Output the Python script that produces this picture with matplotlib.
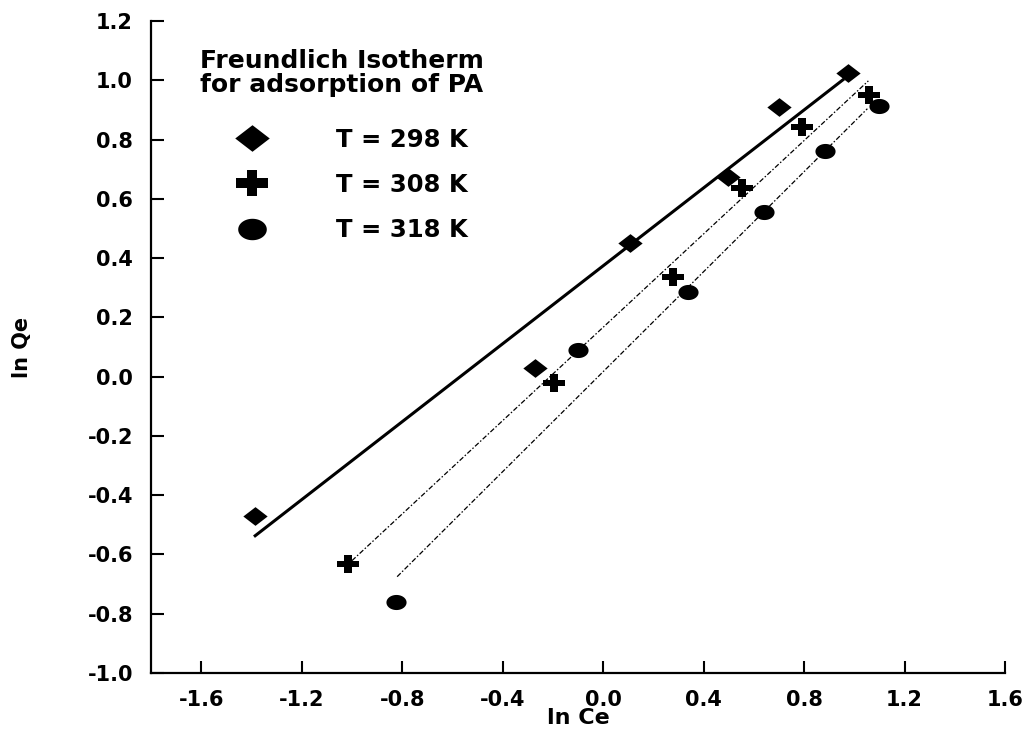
import numpy as np
import matplotlib
matplotlib.use("Agg")
import matplotlib.pyplot as plt
from matplotlib.ticker import FixedLocator, FormatStrFormatter

plt.rcParams['font.family'] = ['DejaVu Sans']
plt.rcParams['font.weight'] = 'bold'
plt.rcParams['axes.unicode_minus'] = False

# ---- data ----
lnCe_298 = [-1.386, -0.271, 0.108, 0.498, 0.701, 0.976]
lnQe_298 = [-0.469, 0.030, 0.452, 0.675, 0.911, 1.025]
lnCe_308 = [-1.016, -0.195, 0.279, 0.554, 0.793, 1.059]
lnQe_308 = [-0.631, -0.020, 0.337, 0.637, 0.843, 0.951]
lnCe_318 = [-0.824, -0.100, 0.339, 0.641, 0.884, 1.099]
lnQe_318 = [-0.759, 0.091, 0.287, 0.556, 0.762, 0.914]

fit_298_x = [-1.39, 0.96]
fit_298_y = [-0.54, 1.005]
fit_308_x = [-1.00, 1.056]
fit_308_y = [-0.621, 0.998]
fit_318_x = [-0.820, 1.052]
fit_318_y = [-0.675, 0.904]

labels = ['T = 298 K', 'T = 308 K', 'T = 318 K']
x_ticks = [-1.6, -1.2, -0.8, -0.4, 0.0, 0.4, 0.8, 1.2, 1.6]
y_ticks = [-1.0, -0.8, -0.6, -0.4, -0.2, 0.0, 0.2, 0.4, 0.6, 0.8, 1.0, 1.2]
title_text = 'Freundlich Isotherm\nfor adsorption of PA'

# ---- custom marker shapes (wider than tall, like the reference) ----
diamond = [(-1, 0), (0, 0.77), (1, 0), (0, -0.77), (-1, 0)]
a, b, H = 0.33, 0.28, 0.77
plus = [(-1, -b), (-a, -b), (-a, -H), (a, -H), (a, -b), (1, -b), (1, b),
        (a, b), (a, H), (-a, H), (-a, b), (-1, b), (-1, -b)]
t = np.linspace(0, 2 * np.pi, 64)
ellipse = list(zip(np.cos(t), 0.75 * np.sin(t)))

fig = plt.figure(figsize=(10.29, 7.35), dpi=100)
W, Hh = 1029, 735
ax = fig.add_axes([151 / W, 1 - 673 / Hh, (1005 - 151) / W, (673 - 21) / Hh])

# fit lines
ax.plot(fit_298_x, fit_298_y, color='black', lw=2.2, solid_capstyle='butt')
ax.plot(fit_308_x, fit_308_y, color='black', lw=0.9, dashes=[4, 1.6, 1.2, 1.6])
ax.plot(fit_318_x, fit_318_y, color='black', lw=0.9, dashes=[4, 1.6, 1.2, 1.6])

# data points
ax.plot(lnCe_298, lnQe_298, linestyle='none', marker=diamond, markersize=17.5,
        color='black', markeredgewidth=0, label=labels[0])
ax.plot(lnCe_308, lnQe_308, linestyle='none', marker=plus, markersize=16.5,
        color='black', markeredgewidth=0, label=labels[1])
ax.plot(lnCe_318, lnQe_318, linestyle='none', marker=ellipse, markersize=14.5,
        color='black', markeredgewidth=0, label=labels[2])

ax.set_xlim(-1.8, 1.6)
ax.set_ylim(-1.0, 1.2)
ax.xaxis.set_major_locator(FixedLocator(x_ticks))
ax.yaxis.set_major_locator(FixedLocator(y_ticks))
ax.xaxis.set_major_formatter(FormatStrFormatter('%.1f'))
ax.yaxis.set_major_formatter(FormatStrFormatter('%.1f'))

for s in ['top', 'right']:
    ax.spines[s].set_visible(False)
for s in ['left', 'bottom']:
    ax.spines[s].set_linewidth(1.6)
ax.tick_params(axis='both', direction='in', length=9, width=1.5, labelsize=15)
ax.tick_params(axis='y', pad=13)
ax.tick_params(axis='x', pad=12)

ax.set_xlabel('ln Ce', fontsize=16, fontweight='bold')
ax.xaxis.set_label_coords(0.5, -0.053)
ax.set_ylabel('ln Qe', fontsize=15, fontweight='bold', va='center')
ax.yaxis.set_label_coords(-0.151, 0.5)

fig.text(200 / W, 1 - 92 / Hh, title_text, fontsize=18, fontweight='bold',
         ha='left', va='baseline', linespacing=1.0)

fs = 17.5
leg = ax.legend(loc='center left', bbox_to_anchor=(228 / W, 1 - 185 / Hh),
                bbox_transform=fig.transFigure, frameon=False, markerscale=1.42,
                fontsize=fs, handlelength=2.0, handletextpad=2.45,
                labelspacing=0.87, borderpad=0, borderaxespad=0)
for txt in leg.get_texts():
    txt.set_fontweight('bold')

fig.savefig('out.png', dpi=100)
